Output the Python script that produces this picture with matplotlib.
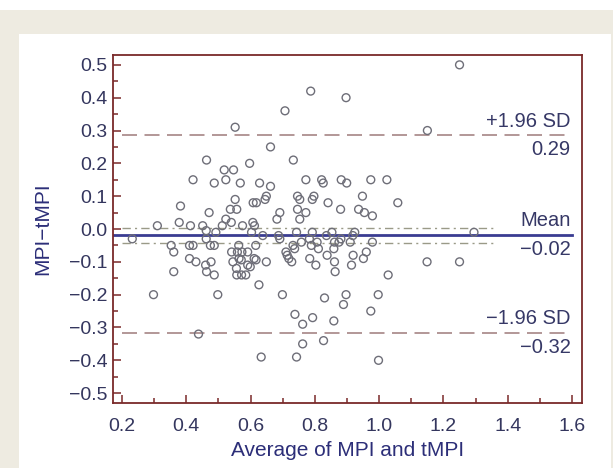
import matplotlib
matplotlib.use("Agg")
import matplotlib.pyplot as plt
from matplotlib.patches import Rectangle
from matplotlib.ticker import MultipleLocator, FixedLocator

plt.rcParams['font.family'] = ['Liberation Sans', 'DejaVu Sans']

avg = [1.25, 0.787, 0.897, 0.707, 0.552, 1.15, 0.662, 0.463, 0.733, 0.597,
       0.518, 0.547, 0.421, 0.523, 0.487, 0.568, 0.628, 0.662, 0.772, 0.821,
       0.826, 0.882, 0.899, 0.974, 1.024, 0.649, 0.645, 0.552, 0.746, 0.753,
       0.797, 0.792, 0.948, 1.058, 0.608, 0.618, 0.841, 0.382, 0.537, 0.557,
       0.746, 0.880, 0.936, 0.471, 0.691, 0.772, 0.954, 0.979, 0.753, 0.682,
       0.523, 0.540, 0.378, 0.607, 0.310, 0.413, 0.451, 0.512, 0.575, 0.612,
       0.462, 0.492, 0.603, 0.743, 0.792, 0.853, 0.924, 1.295, 0.232, 0.462,
       0.638, 0.687, 0.691, 0.783, 0.881, 0.918, 0.836, 0.861, 0.875, 0.910,
       0.979, 0.758, 0.807, 0.353, 0.410, 0.421, 0.475, 0.487, 0.563, 0.616,
       0.732, 0.789, 0.811, 0.859, 0.737, 0.361, 0.541, 0.559, 0.573, 0.591,
       0.710, 0.960, 0.714, 0.564, 0.611, 0.719, 0.784, 0.838, 0.919, 0.951,
       0.410, 0.430, 0.477, 0.545, 0.649, 0.728, 0.861, 1.149, 1.250, 0.460,
       0.556, 0.591, 0.803, 0.914, 0.463, 0.361, 0.487, 0.557, 0.572, 0.585,
       0.863, 1.028, 0.626, 0.298, 0.498, 0.699, 0.897, 0.997, 0.830, 0.889,
       0.974, 0.738, 0.793, 0.859, 0.762, 0.438, 0.827, 0.762, 0.633, 0.743,
       0.998, 0.599, 0.617, 0.571]
diff = [0.50, 0.42, 0.40, 0.36, 0.31, 0.30, 0.25, 0.21, 0.21, 0.20,
        0.18, 0.18, 0.15, 0.15, 0.14, 0.14, 0.14, 0.13, 0.15, 0.15,
        0.14, 0.15, 0.14, 0.15, 0.15, 0.10, 0.09, 0.09, 0.10, 0.09,
        0.10, 0.09, 0.10, 0.08, 0.08, 0.08, 0.08, 0.07, 0.06, 0.06,
        0.06, 0.06, 0.06, 0.05, 0.05, 0.05, 0.05, 0.04, 0.03, 0.03,
        0.03, 0.02, 0.02, 0.02, 0.01, 0.01, 0.01, 0.01, 0.01, 0.01,
        -0.005, -0.01, -0.01, -0.01, -0.01, -0.01, -0.01, -0.01, -0.03, -0.03,
        -0.02, -0.02, -0.03, -0.03, -0.03, -0.02, -0.02, -0.04, -0.04, -0.04,
        -0.04, -0.04, -0.04, -0.05, -0.05, -0.05, -0.05, -0.05, -0.05, -0.05,
        -0.05, -0.05, -0.06, -0.06, -0.06, -0.07, -0.07, -0.07, -0.07, -0.07,
        -0.07, -0.07, -0.08, -0.09, -0.09, -0.09, -0.09, -0.08, -0.08, -0.09,
        -0.09, -0.10, -0.10, -0.10, -0.10, -0.10, -0.10, -0.10, -0.10, -0.11,
        -0.12, -0.11, -0.11, -0.11, -0.13, -0.13, -0.14, -0.14, -0.14, -0.14,
        -0.13, -0.14, -0.17, -0.20, -0.20, -0.20, -0.20, -0.20, -0.21, -0.23,
        -0.25, -0.26, -0.27, -0.28, -0.29, -0.32, -0.34, -0.35, -0.39, -0.39,
        -0.40, -0.115, -0.094, -0.094]

mean_diff = -0.018
upper_loa = 0.285
lower_loa = -0.318
ci_mean = [0.004, -0.043]
loa_labels = ["+1.96 SD", "0.29", "Mean", "\u22120.02", "\u22121.96 SD", "\u22120.32"]
xticks = [0.2, 0.4, 0.6, 0.8, 1.0, 1.2, 1.4, 1.6]
yticks = [0.5, 0.4, 0.3, 0.2, 0.1, 0.0, -0.1, -0.2, -0.3, -0.4, -0.5]

W, H = 613, 468
fig = plt.figure(figsize=(W / 100, H / 100), dpi=100)
fig.patch.set_facecolor('white')
# beige outer band and white panel
fig.patches.append(Rectangle((0, 0), 1, 1 - 10 / H, transform=fig.transFigure,
                             facecolor='#EEEBE1', edgecolor='none', zorder=-10))
fig.patches.append(Rectangle((19 / W, 0), (611 - 19) / W, (H - 34) / H,
                             transform=fig.transFigure, facecolor='white',
                             edgecolor='none', zorder=-9))

left, right, top, bottom = 113, 582, 55, 403
ax = fig.add_axes([left / W, 1 - bottom / H, (right - left) / W, (bottom - top) / H])
ax.set_xlim(0.172, 1.631)
ax.set_ylim(-0.53, 0.53)

frame_col = '#7A2A2A'
for s in ax.spines.values():
    s.set_color(frame_col)
    s.set_linewidth(1.3)

tick_col = '#34365E'
ax.xaxis.set_major_locator(FixedLocator(xticks))
ax.xaxis.set_minor_locator(MultipleLocator(0.1))
ax.yaxis.set_major_locator(FixedLocator(yticks))
ax.yaxis.set_minor_locator(MultipleLocator(0.05))
ax.tick_params(which='both', direction='in', color=frame_col, width=1.1,
               top=False, right=False)
ax.tick_params(which='major', length=6, labelsize=14, labelcolor=tick_col)
ax.tick_params(axis='y', which='major', pad=4)
ax.tick_params(axis='x', which='major', pad=11)
ax.tick_params(which='minor', length=3.5)
ax.set_xticklabels([f"{v:.1f}" for v in xticks])
ax.set_yticklabels([f"{v:.1f}".replace('-', '\u2212') if v != 0 else "0.0" for v in yticks])

ax.set_xlabel("Average of MPI and tMPI", fontsize=15, color='#2C2E78', labelpad=4)
ax.set_ylabel("MPI\u2212tMPI", fontsize=15, color='#2C2E78', labelpad=12)

# reference lines
ax.plot([0.172, 1.6], [mean_diff, mean_diff], color='#3A3C92', lw=2.0, zorder=2)
for yv in (upper_loa, lower_loa):
    ax.plot([0.2, 1.6], [yv, yv], color='#A58585', lw=1.2, dashes=(9, 4.5), zorder=2)
for yv in ci_mean:
    ax.plot([0.2, 1.36], [yv, yv], color='#9A9A88', lw=1.0, dashes=(6, 3, 1.5, 3), zorder=2)

ax.scatter(avg, diff, s=32, facecolors='none', edgecolors='#6E6E78', linewidths=1.0, zorder=3)

txt_col = '#363866'
xt = 1.595
fs = 14.5
ax.text(xt, upper_loa + 0.015, loa_labels[0], ha='right', va='bottom', fontsize=fs, color=txt_col)
ax.text(xt, upper_loa - 0.015, loa_labels[1], ha='right', va='top', fontsize=fs, color=txt_col)
ax.text(xt, mean_diff + 0.015, loa_labels[2], ha='right', va='bottom', fontsize=fs, color=txt_col)
ax.text(xt, mean_diff - 0.015, loa_labels[3], ha='right', va='top', fontsize=fs, color=txt_col)
ax.text(xt, lower_loa + 0.015, loa_labels[4], ha='right', va='bottom', fontsize=fs, color=txt_col)
ax.text(xt, lower_loa - 0.015, loa_labels[5], ha='right', va='top', fontsize=fs, color=txt_col)

fig.savefig("out.png", dpi=100)
